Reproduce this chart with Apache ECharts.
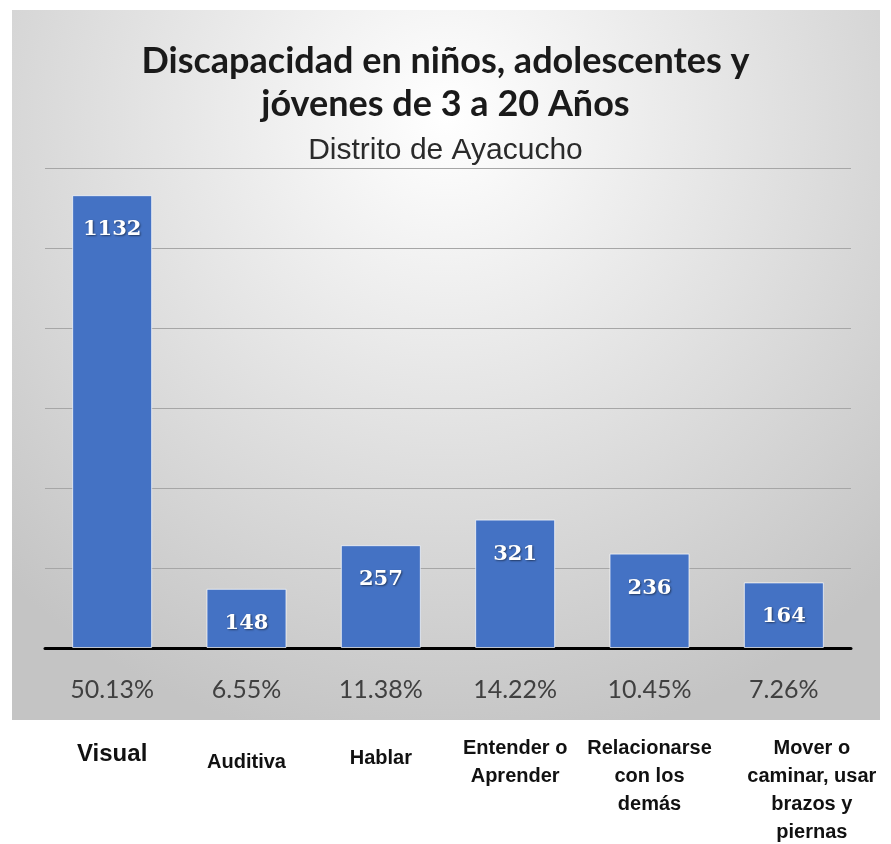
<!DOCTYPE html>
<html>
<head>
<meta charset="utf-8">
<script src="https://cdn.jsdelivr.net/npm/echarts@6/dist/echarts.min.js"></script>
<style>
  html, body { margin: 0; padding: 0; background: #fff; }
  #chart { width: 891px; height: 844px; }
</style>
</head>
<body>
<div id="chart"></div>
<script>
const categories = ['Visual', 'Auditiva', 'Hablar', 'Entender o\nAprender', 'Relacionarse\ncon los\ndemás', 'Mover o\ncaminar, usar\nbrazos y\npiernas'];
const counts = [1132, 148, 257, 321, 236, 164];
const percents = ['50.13%', '6.55%', '11.38%', '14.22%', '10.45%', '7.26%'];

const chart = echarts.init(document.getElementById('chart'));

// small per-label nudges so the names sit like in the picture
const labelTweaks = [
  { fontSize: 24, padding: [6, 0, 0, 0] },
  { padding: [14, 0, 0, 0] },
  { padding: [10, 0, 0, 0] },
  {},
  {},
  { padding: [0, 0, 0, 56] },
];

const option = {
  animation: false,
  title: [
    {
      text: 'Discapacidad en niños, adolescentes y\njóvenes de 3 a 20 Años',
      left: 'center',
      top: 35,
      textStyle: {
        fontFamily: 'Lato',
        fontWeight: 'bold',
        fontSize: 36,
        lineHeight: 43,
        color: '#1a1a1a',
      },
    },
    {
      text: 'Distrito de Ayacucho',
      left: 'center',
      top: 131,
      textStyle: {
        fontFamily: 'Liberation Sans',
        fontWeight: 'normal',
        fontSize: 30,
        color: '#2a2a2a',
      },
    },
  ],
  graphic: [
    {
      type: 'rect',
      z: -10,
      shape: { x: 12, y: 10, width: 868, height: 710 },
      style: {
        fill: new echarts.graphic.RadialGradient(0.5, 0.15, 0.9, [
          { offset: 0, color: '#ffffff' },
          { offset: 1, color: '#c4c4c4' },
        ]),
      },
    },
  ],
  grid: { left: 45, right: 40, top: 168, bottom: 196, outerBoundsMode: 'none' },
  xAxis: [
    {
      type: 'category',
      data: percents,
      axisLine: { lineStyle: { color: '#000', width: 3 } },
      axisTick: { show: false },
      axisLabel: {
        margin: 29,
        fontFamily: 'Lato',
        fontSize: 25,
        color: '#404040',
      },
    },
    {
      type: 'category',
      position: 'bottom',
      offset: 82,
      data: categories.map((c, i) => ({ value: c, textStyle: labelTweaks[i] })),
      axisLine: { show: false },
      axisTick: { show: false },
      axisLabel: {
        margin: 4,
        interval: 0,
        fontFamily: 'Liberation Sans',
        fontWeight: 'bold',
        fontSize: 20,
        lineHeight: 28,
        color: '#111',
      },
    },
  ],
  yAxis: {
    type: 'value',
    min: 0,
    max: 1200,
    interval: 200,
    axisLine: { show: false },
    axisTick: { show: false },
    axisLabel: { show: false },
    splitLine: { lineStyle: { color: '#a6a6a6', width: 1 } },
  },
  series: [
    {
      type: 'bar',
      data: counts,
      barWidth: 80,
      itemStyle: {
        color: '#4472c4',
        borderColor: 'rgba(255,255,255,0.7)',
        borderWidth: 1,
      },
      label: {
        show: true,
        position: 'insideTop',
        distance: 24,
        fontFamily: 'DejaVu Serif',
        fontWeight: 'bold',
        fontSize: 21,
        color: '#fff',
        textShadowColor: 'rgba(0,0,0,0.5)',
        textShadowBlur: 2,
        textShadowOffsetX: 1,
        textShadowOffsetY: 1,
      },
    },
  ],
};

chart.setOption(option);
</script>
</body>
</html>
